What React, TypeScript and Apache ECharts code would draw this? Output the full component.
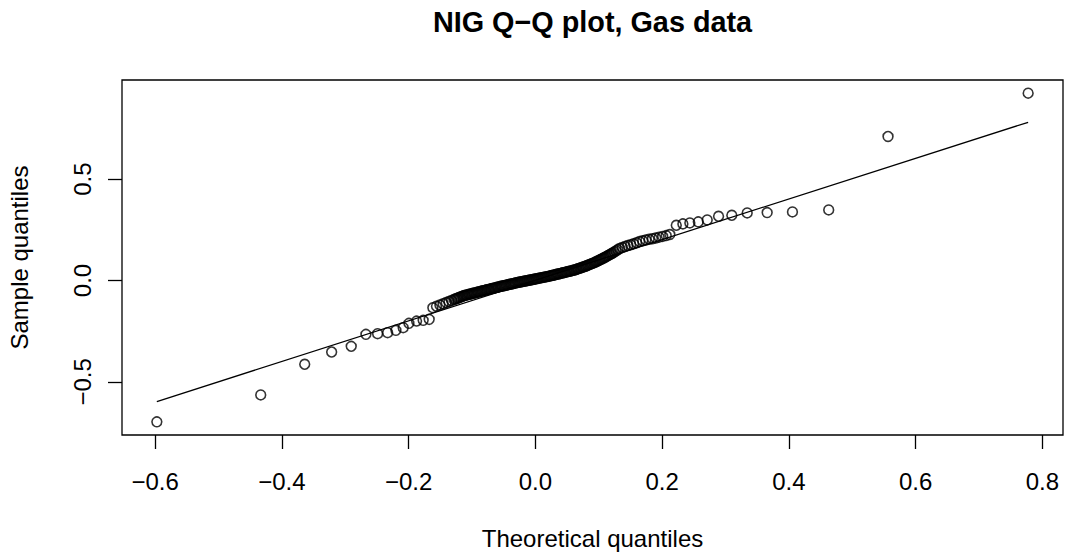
import { useEffect, useRef } from "react";
import * as echarts from "echarts";

// Q-Q points: theoretical NIG quantiles against sorted sample quantiles.
const leftTailTheoretical = [
  -0.5972, -0.4333, -0.3639, -0.3214, -0.2905, -0.2673, -0.2489, -0.2331,
  -0.22, -0.2085, -0.1995, -0.1874, -0.177, -0.1675,
];
const leftTailSample = [
  -0.6973, -0.5644, -0.4134, -0.3528, -0.3248, -0.2657, -0.2623, -0.2574,
  -0.2461, -0.2328, -0.2116, -0.2003, -0.1968, -0.1919,
];

const lowerShoulderTheoretical = [
  -0.1617, -0.156, -0.1506, -0.1455, -0.1407, -0.1363, -0.1322, -0.1284, -0.1262,
];
const lowerShoulderSample = [
  -0.1343, -0.1274, -0.1209, -0.1147, -0.1089, -0.1036, -0.0986, -0.094, -0.0914,
];

const coreTheoretical = [
  -0.124, -0.122, -0.12, -0.118, -0.116, -0.114, -0.112, -0.11, -0.108, -0.106,
  -0.104, -0.102, -0.1, -0.098, -0.096, -0.094, -0.092, -0.09, -0.088, -0.086,
  -0.084, -0.082, -0.08, -0.078, -0.076, -0.074, -0.072, -0.07, -0.068, -0.066,
  -0.064, -0.062, -0.06, -0.058, -0.056, -0.054, -0.052, -0.05, -0.048, -0.046,
  -0.044, -0.042, -0.04, -0.038, -0.036, -0.034, -0.032, -0.03, -0.028, -0.026,
  -0.024, -0.022, -0.02, -0.018, -0.016, -0.014, -0.012, -0.01, -0.008, -0.006,
  -0.004, -0.002, 0.0, 0.002, 0.004, 0.006, 0.008, 0.01, 0.012, 0.014,
  0.016, 0.018, 0.02, 0.022, 0.024, 0.026, 0.028, 0.03, 0.032, 0.034,
  0.036, 0.038, 0.04, 0.042, 0.044, 0.046, 0.048, 0.05, 0.052, 0.054,
  0.056, 0.058, 0.06, 0.062, 0.064, 0.066, 0.068, 0.07, 0.072, 0.074,
  0.076, 0.078, 0.08, 0.082, 0.084, 0.086, 0.088, 0.09, 0.092, 0.094,
  0.096, 0.098, 0.1, 0.102, 0.104, 0.106, 0.108, 0.11, 0.112, 0.114,
  0.116, 0.118, 0.12, 0.122,
];
const coreSample = [
  -0.0887, -0.0863, -0.084, -0.0816, -0.0792, -0.0768, -0.0745, -0.0728, -0.0712, -0.0696,
  -0.0681, -0.0665, -0.0649, -0.0634, -0.0618, -0.0602, -0.0586, -0.0571, -0.0555, -0.0539,
  -0.0524, -0.0508, -0.0492, -0.0477, -0.0461, -0.0445, -0.0429, -0.0414, -0.0398, -0.0382,
  -0.0367, -0.0351, -0.0335, -0.0319, -0.0304, -0.029, -0.0276, -0.0261, -0.0247, -0.0233,
  -0.0218, -0.0204, -0.019, -0.0175, -0.0161, -0.0147, -0.0132, -0.0118, -0.0104, -0.0089,
  -0.0075, -0.0063, -0.005, -0.0038, -0.0025, -0.0013, 0.0, 0.0012, 0.0025, 0.0037,
  0.005, 0.0062, 0.0075, 0.0087, 0.01, 0.0112, 0.0125, 0.0137, 0.015, 0.0162,
  0.0175, 0.0187, 0.02, 0.0212, 0.0227, 0.0242, 0.0257, 0.0272, 0.0288, 0.0303,
  0.0318, 0.0333, 0.0348, 0.0364, 0.0379, 0.0394, 0.0409, 0.0424, 0.044, 0.0455,
  0.047, 0.0485, 0.05, 0.0516, 0.0538, 0.0559, 0.0581, 0.0603, 0.0625, 0.0647,
  0.0668, 0.069, 0.0715, 0.074, 0.0766, 0.0791, 0.0816, 0.0841, 0.0866, 0.0892,
  0.0923, 0.0955, 0.0986, 0.1017, 0.1048, 0.1079, 0.111, 0.1143, 0.1178, 0.1213,
  0.1248, 0.1283, 0.1318, 0.1353,
];

const upperShoulderTheoretical = [
  0.1245, 0.1272, 0.13, 0.133, 0.1372, 0.1415, 0.1459, 0.1504, 0.155, 0.1597,
  0.1645, 0.1694, 0.1744, 0.1795, 0.1847, 0.19, 0.1954, 0.2009, 0.2065, 0.2122,
];
const upperShoulderSample = [
  0.1404, 0.1458, 0.1515, 0.1575, 0.1624, 0.1674, 0.1724, 0.176, 0.1808, 0.1862,
  0.1919, 0.1957, 0.1997, 0.2031, 0.2059, 0.2092, 0.2135, 0.2171, 0.2212, 0.2265,
];

const rightTailTheoretical = [
  0.2224, 0.2328, 0.2438, 0.2571, 0.2712, 0.2891, 0.31, 0.3343, 0.3658, 0.4057,
  0.4629, 0.5565, 0.7776,
];
const rightTailSample = [
  0.2721, 0.279, 0.2839, 0.2889, 0.2987, 0.3164, 0.3213, 0.3331, 0.3346, 0.3381,
  0.3479, 0.7101, 0.9237,
];

// Reference line through the quartiles, drawn across the theoretical range.
const refLineTheoretical = [-0.5972, 0.7776];
const refLineSample = [-0.597, 0.78];

const xTicks = [-0.6, -0.4, -0.2, 0, 0.2, 0.4, 0.6, 0.8];
const yTicks = [-0.5, 0, 0.5];

const FONT = "'Liberation Sans', Arial, Helvetica, sans-serif";

const fmt = (v: number) => v.toFixed(1).replace("-", "\u2212");

// Axis limits padded by 4% of the data range on each side.
function paddedRange(values: number[]): [number, number] {
  const lo = Math.min(...values);
  const hi = Math.max(...values);
  const pad = (hi - lo) * 0.04;
  return [lo - pad, hi + pad];
}

export default function App() {
  const ref = useRef<HTMLDivElement>(null);

  useEffect(() => {
    if (!ref.current) return;
    const chart = echarts.init(ref.current, null, { renderer: "svg" });

    const theoretical = [
      ...leftTailTheoretical,
      ...lowerShoulderTheoretical,
      ...coreTheoretical,
      ...upperShoulderTheoretical,
      ...rightTailTheoretical,
    ];
    const sample = [
      ...leftTailSample,
      ...lowerShoulderSample,
      ...coreSample,
      ...upperShoulderSample,
      ...rightTailSample,
    ];
    const points = theoretical.map((t, i) => [t, sample[i]]);
    const refLine = refLineTheoretical.map((t, i) => [t, refLineSample[i]]);

    const [xMin, xMax] = paddedRange(theoretical);
    const [yMin, yMax] = paddedRange(sample);

    const labelStyle = { fontFamily: FONT, fontSize: 24, color: "#000" };

    chart.setOption({
      animation: false,
      backgroundColor: "#fff",
      title: {
        text: "NIG Q\u2212Q plot, Gas data",
        left: 592.5,
        top: 7,
        textAlign: "center",
        padding: 0,
        textStyle: {
          fontFamily: FONT,
          fontSize: 28.8,
          fontWeight: "bold",
          color: "#000",
        },
      },
      grid: {
        left: 122,
        right: 3,
        top: 80,
        bottom: 121,
        show: true,
        borderColor: "#000",
        borderWidth: 1.3,
        backgroundColor: "transparent",
        containLabel: false,
        outerBoundsMode: "none",
      },
      xAxis: {
        type: "value",
        min: xMin,
        max: xMax,
        name: "Theoretical quantiles",
        nameLocation: "middle",
        nameGap: 91,
        nameTextStyle: labelStyle,
        axisLine: { show: false, onZero: false },
        splitLine: { show: false },
        axisTick: {
          show: true,
          inside: false,
          length: 14,
          customValues: xTicks,
          lineStyle: { color: "#000", width: 1.3 },
        },
        axisLabel: {
          customValues: xTicks,
          formatter: fmt,
          margin: 34,
          ...labelStyle,
        },
      },
      yAxis: {
        type: "value",
        min: yMin,
        max: yMax,
        name: "Sample quantiles",
        nameLocation: "middle",
        nameGap: 91,
        nameRotate: 90,
        nameTextStyle: labelStyle,
        axisLine: { show: false, onZero: false },
        splitLine: { show: false },
        axisTick: {
          show: true,
          inside: false,
          length: 14,
          customValues: yTicks,
          lineStyle: { color: "#000", width: 1.3 },
        },
        axisLabel: {
          customValues: yTicks,
          formatter: fmt,
          rotate: 90,
          margin: 28,
          ...labelStyle,
        },
      },
      series: [
        {
          type: "line",
          data: refLine,
          symbol: "none",
          showSymbol: false,
          silent: true,
          lineStyle: { color: "#000", width: 1.3 },
          z: 1,
        },
        {
          type: "scatter",
          data: points,
          symbol: "circle",
          symbolSize: 9.8,
          silent: true,
          itemStyle: {
            color: "transparent",
            borderColor: "#000",
            borderWidth: 1.6,
          },
          z: 2,
        },
      ],
    });

    return () => chart.dispose();
  }, []);

  return (
    <div
      ref={ref}
      style={{
        position: "fixed",
        left: 0,
        top: 0,
        width: 1066,
        height: 556,
        background: "#fff",
      }}
    />
  );
}
